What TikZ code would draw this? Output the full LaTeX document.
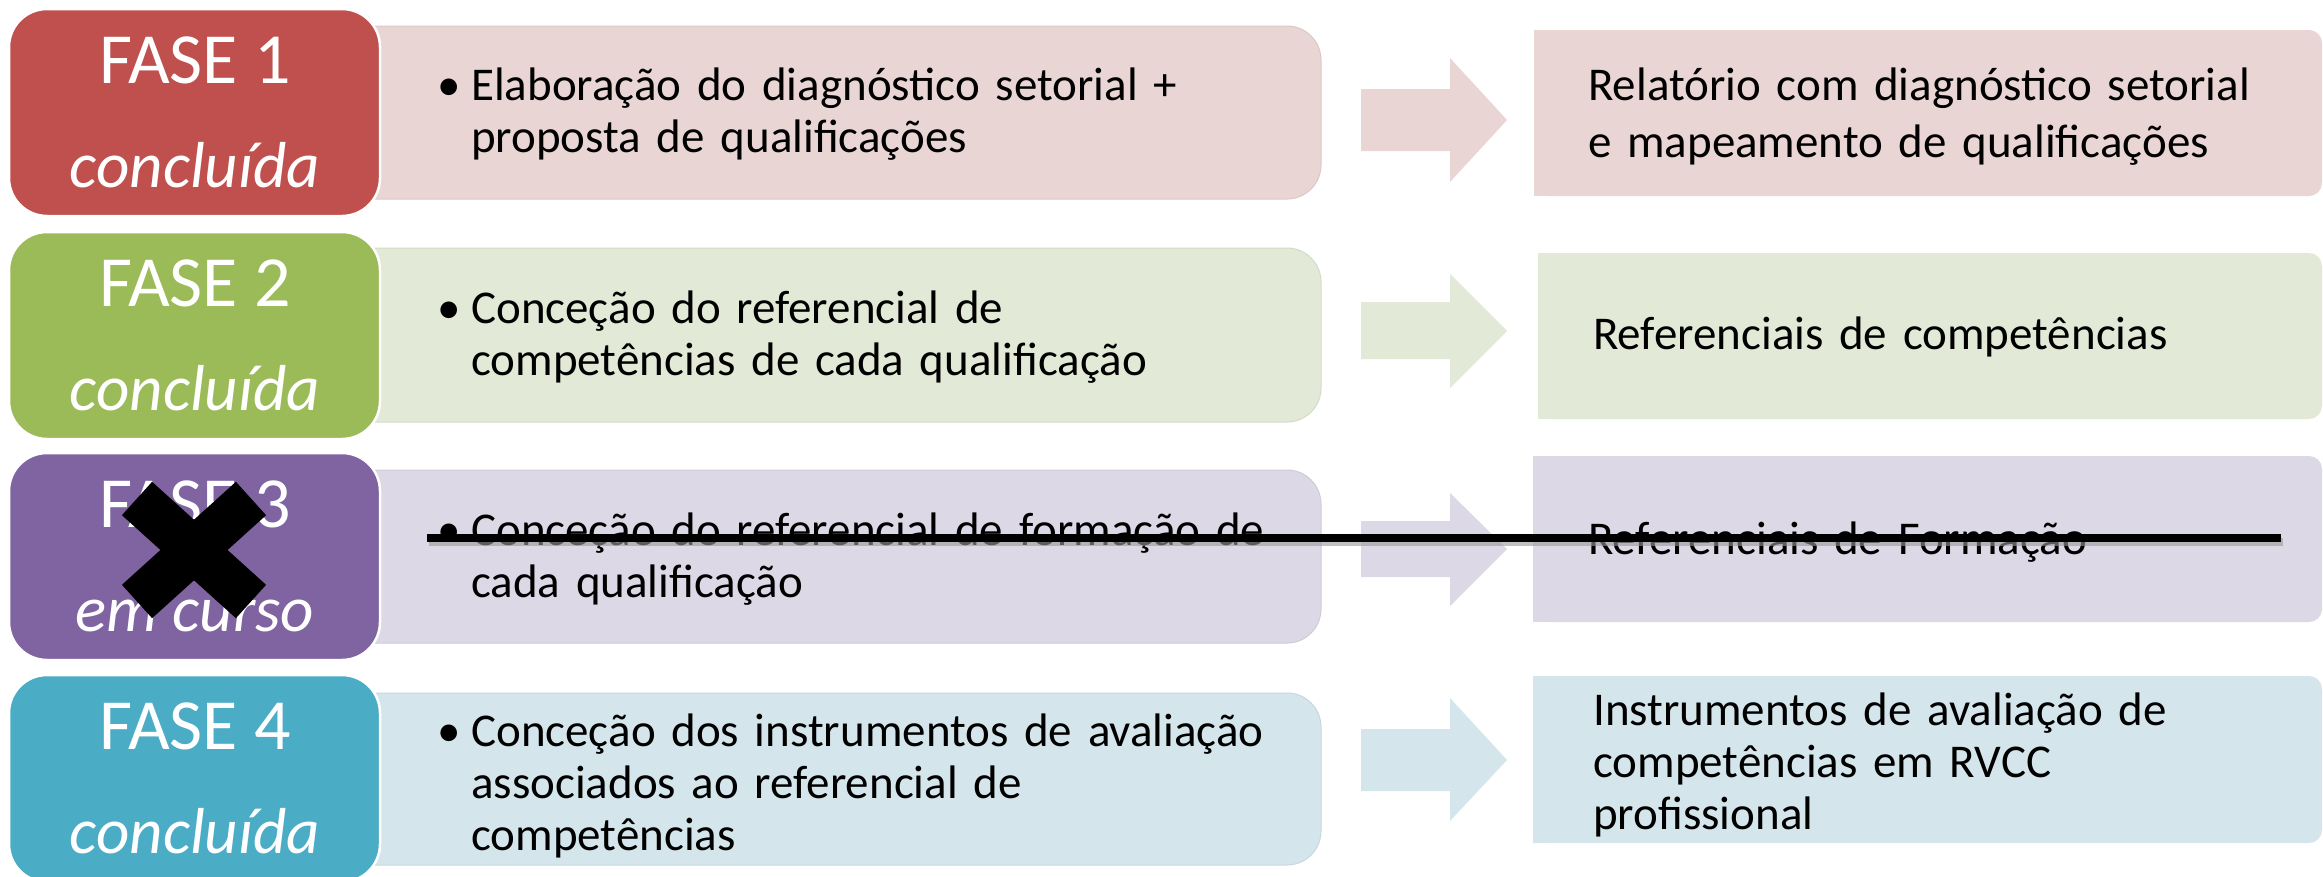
\documentclass[tikz,border=0pt]{standalone}
\usepackage{fontspec}
\setmainfont{Carlito}
\definecolor{cA}{HTML}{C0504D}\definecolor{cAl}{HTML}{EAD5D5}
\definecolor{cB}{HTML}{9BBB59}\definecolor{cBl}{HTML}{E2E9D6}
\definecolor{cC}{HTML}{8064A2}\definecolor{cCl}{HTML}{DCD8E5}
\definecolor{cD}{HTML}{4BACC6}\definecolor{cDl}{HTML}{D4E5EB}
\begin{document}
\begin{tikzpicture}[x=1pt,y=-1pt,
  phasebox/.style={rounded corners=38pt, draw=white, line width=2.5pt, anchor=north west,
    minimum width=371pt, minimum height=207pt, inner sep=0pt, outer sep=0pt},
  midbox/.style={rounded corners=34pt, anchor=north west, minimum width=981pt,
    inner sep=0pt, outer sep=0pt},
  phtitle/.style={anchor=base, text=white, inner sep=0pt, font=\fontsize{72}{86}\selectfont},
  phstat/.style={anchor=base, text=white, inner sep=0pt, font=\fontsize{65}{78}\selectfont\itshape},
  bul/.style={anchor=base west, inner sep=0pt, font=\fontsize{47}{52}\selectfont},
  midtext/.style={anchor=base west, inner sep=0pt, align=left, text width=840pt, font=\fontsize{47}{52}\selectfont},
  outtext/.style={anchor=base west, inner sep=0pt, align=left, text width=720pt, font=\fontsize{47}{57}\selectfont},
  rtcorner/.style={rounded corners=13pt}
]
\useasboundingbox (0,0) rectangle (2323,876);
\fill[white] (0,0) rectangle (2323,876);

% ---- middle boxes
\node[midbox, fill=cAl, draw=cAl!94!black, line width=1pt, minimum height=173pt] (mb1) at (340,26) {};
\node[midbox, fill=cBl, draw=cBl!94!black, line width=1pt, minimum height=174pt] (mb2) at (340,248) {};
\node[midbox, fill=cCl, draw=cCl!94!black, line width=1pt, minimum height=173pt] (mb3) at (340,470) {};
\node[midbox, fill=cDl, draw=cDl!94!black, line width=1pt, minimum height=172pt] (mb4) at (340,693) {};

% ---- right boxes (square left corners, rounded right corners)
\fill[cAl, rtcorner] (1534,30) rectangle (2322,196);
\fill[cAl] (1534,30) rectangle (1600,196);
\fill[cBl, rtcorner] (1538,253) rectangle (2322,419);
\fill[cBl] (1538,253) rectangle (1600,419);
\fill[cCl, rtcorner] (1533,456) rectangle (2322,622);
\fill[cCl] (1533,456) rectangle (1600,622);
\fill[cDl, rtcorner] (1533,676) rectangle (2322,843);
\fill[cDl] (1533,676) rectangle (1600,843);

% ---- block arrows
\fill[cAl] (1361,89) -- (1450,89) -- (1450,58) -- (1507,120) -- (1450,182) -- (1450,151) -- (1361,151) -- cycle;
\fill[cBl] (1361,302) -- (1450,302) -- (1450,274) -- (1507,331) -- (1450,388) -- (1450,359) -- (1361,359) -- cycle;
\fill[cCl] (1361,521) -- (1450,521) -- (1450,493) -- (1507,549) -- (1450,606) -- (1450,577) -- (1361,577) -- cycle;
\fill[cDl] (1361,729) -- (1450,729) -- (1450,698) -- (1507,760) -- (1450,821) -- (1450,791) -- (1361,791) -- cycle;

% ---- phase boxes
\node[phasebox, fill=cA] (p1) at (9,9) {};
\node[phasebox, fill=cB] (p2) at (9,232) {};
\node[phasebox, fill=cC] (p3) at (9,453) {};
\node[phasebox, fill=cD] (p4) at (9,675) {};

\node[phtitle] (t1) at (195,83) {FASE 1};
\node[phstat]  (s1) at (195,187) {concluída};
\node[phtitle] (t2) at (195,306) {FASE 2};
\node[phstat]  (s2) at (195,410) {concluída};
\node[phtitle] (t3) at (195,527) {FASE 3};
\node[phstat]  (s3) at (195,631) {em curso};
\node[phtitle] (t4) at (195,749) {FASE 4};
\node[phstat]  (s4) at (195,853) {concluída};

% ---- middle texts
\node[bul] (b1) at (437,100) {•};
\node[midtext] (m1) at (471,100) {Elaboração do diagnóstico setorial +\\proposta de qualificações};
\node[bul] (b2) at (437,323) {•};
\node[midtext] (m2) at (471,323) {Conceção do referencial de\\competências de cada qualificação};
\node[bul] (b3) at (437,545) {•};
\node[midtext] (m3) at (471,545) {Conceção do referencial de formação de\\cada qualificação};
\node[bul] (b4) at (437,746) {•};
\node[midtext] (m4) at (471,746) {Conceção dos instrumentos de avaliação\\associados ao referencial de\\competências};

% ---- output texts
\node[outtext] (o1) at (1588,100) {Relatório com diagnóstico setorial\\e mapeamento de qualificações};
\node[outtext] (o2) at (1593,349) {Referenciais de competências};
\node[outtext] (o3) at (1588,554) {Referenciais de Formação};
\node[outtext, font=\fontsize{47}{52}\selectfont] (o4) at (1593,725) {Instrumentos de avaliação de\\competências em RVCC\\profissional};

% ---- cross over phase 3
\draw[line width=45pt, line cap=butt] (137,498.5) -- (251,601.5);
\draw[line width=45pt, line cap=butt] (251,498.5) -- (137,601.5);

% ---- strike-through line with shadow
\coordinate (sL) at (427,538);
\coordinate (sR) at (2281,538);
\draw[line width=8pt, black!40, opacity=0.6] ([shift={(2,4)}]sL) -- ([shift={(2,4)}]sR);
\draw[line width=8pt, black] (sL) -- (sR);
\end{tikzpicture}
\end{document}
